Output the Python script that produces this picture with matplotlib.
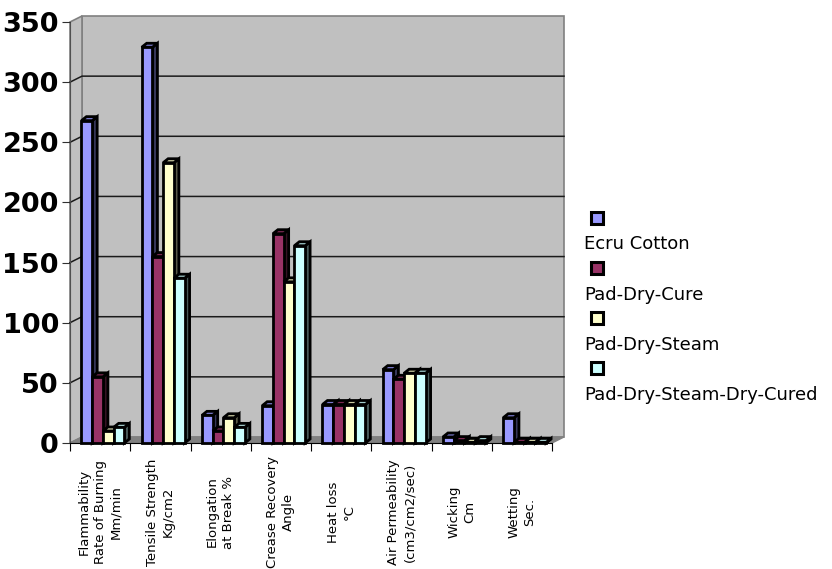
import numpy as np
import matplotlib.pyplot as plt
from matplotlib.patches import Rectangle, Polygon
from matplotlib.lines import Line2D

categories = ["Flammability\nRate of Burning\nMm/min",
              "Tensile Strength\nKg/cm2",
              "Elongation\nat Break %",
              "Crease Recovery\nAngle",
              "Heat loss\n°C",
              "Air Permeability\n(cm3/cm2/sec)",
              "Wicking\nCm",
              "Wetting\nSec."]
series_names = ["Ecru Cotton", "Pad-Dry-Cure", "Pad-Dry-Steam", "Pad-Dry-Steam-Dry-Cured"]
ecru_cotton = [268, 329, 23, 31, 32, 61, 5, 21]
pad_dry_cure = [55, 155, 10, 174, 32, 53, 2, 0.5]
pad_dry_steam = [10, 233, 21, 134, 32, 58, 0.5, 0.5]
pad_dry_steam_dry_cured = [13, 137, 13, 164, 32, 58, 2, 0.5]
yticks = [0, 50, 100, 150, 200, 250, 300, 350]

colors = ["#9999FF", "#993366", "#FFFFCC", "#CCFFFF"]
values = [ecru_cotton, pad_dry_cure, pad_dry_steam, pad_dry_steam_dry_cured]

W, H = 832, 569
fig = plt.figure(figsize=(W / 100, H / 100), dpi=100)
fig.patch.set_facecolor("white")

# front plane of the 3d box, in pixels
x0, x1, yb, yt = 70, 552, 443, 22
ax = fig.add_axes([x0 / W, (H - yb) / H, (x1 - x0) / W, (yb - yt) / H])
ncat = len(categories)
ymax = 350
ax.set_xlim(0, ncat)
ax.set_ylim(0, ymax)
ax.patch.set_visible(False)

ux = ncat / (x1 - x0)   # data units per pixel
uy = ymax / (yb - yt)
wdx, wdy = 12 * ux, 6 * uy   # wall depth
bdx, bdy = 5 * ux, 4 * uy    # bar depth

# walls and floor
ax.add_patch(Rectangle((wdx, wdy), ncat, ymax, facecolor="#C0C0C0",
                       edgecolor="#808080", lw=1.2, zorder=0, clip_on=False))
ax.add_patch(Polygon([(0, 0), (0, ymax), (wdx, ymax + wdy), (wdx, wdy)],
                     closed=True, facecolor="#C0C0C0", edgecolor="#808080",
                     lw=1.2, zorder=0, clip_on=False))
ax.add_patch(Polygon([(0, 0), (ncat, 0), (ncat + wdx, wdy), (wdx, wdy)],
                     closed=True, facecolor="#808080", edgecolor="#808080",
                     lw=1, zorder=0.5, clip_on=False))

for v in yticks[1:-1]:
    ax.add_line(Line2D([0, wdx, ncat + wdx], [v, v + wdy, v + wdy],
                       color="#1a1a1a", lw=1.1, zorder=0.8, clip_on=False))


def shade(c, f):
    c = np.array(plt.matplotlib.colors.to_rgb(c))
    return tuple(c * f)


bw = 0.178
start = 0.19
idx = np.arange(ncat)
for k, (vals, c) in enumerate(zip(values, colors)):
    xs = idx + start + k * bw
    for x, h in zip(xs, vals):
        xr = x + bw
        ax.add_patch(Polygon([(xr, 0), (xr + bdx, bdy), (xr + bdx, h + bdy), (xr, h)],
                             closed=True, facecolor=shade(c, 0.35), edgecolor="black",
                             lw=2, zorder=2 + 2 * k, clip_on=False))
        ax.add_patch(Polygon([(x, h), (x + bdx, h + bdy), (xr + bdx, h + bdy), (xr, h)],
                             closed=True, facecolor=shade(c, 0.8), edgecolor="black",
                             lw=2, zorder=2 + 2 * k, clip_on=False))
    ax.bar(xs, vals, width=bw, align="edge", color=c, edgecolor="black",
           lw=2, zorder=3 + 2 * k, clip_on=False)

# axes
for s in ["top", "right"]:
    ax.spines[s].set_visible(False)
ax.spines["left"].set_color("#505050")
ax.spines["bottom"].set_color("black")
ax.spines["left"].set_zorder(1)
ax.set_yticks(yticks)
ax.set_yticklabels([str(t) for t in yticks], fontsize=19.5, fontweight="bold")
ax.set_xticks(range(ncat + 1))
ax.set_xticklabels([])
ax.tick_params(axis="y", length=6, pad=2, color="#303030")
ax.tick_params(axis="x", length=6, color="black")

for i, lab in enumerate(categories):
    ax.text(i + 0.5, -0.164, lab, transform=ax.get_xaxis_transform(),
            rotation=90, ha="center", va="center", multialignment="center",
            fontsize=9.5, linespacing=1.3)

# legend: swatch above each name
for k, (name, c) in enumerate(zip(series_names, colors)):
    sy = 218 + 50 * k
    fig.patches.append(Rectangle((591 / W, (H - sy - 6) / H), 12 / W, 12 / H,
                                 transform=fig.transFigure, facecolor=c,
                                 edgecolor="black", lw=2.2))
    fig.text(584 / W, (H - (244 + 50.5 * k)) / H, name, fontsize=13,
             ha="left", va="center")

fig.savefig("out.png", dpi=100)
